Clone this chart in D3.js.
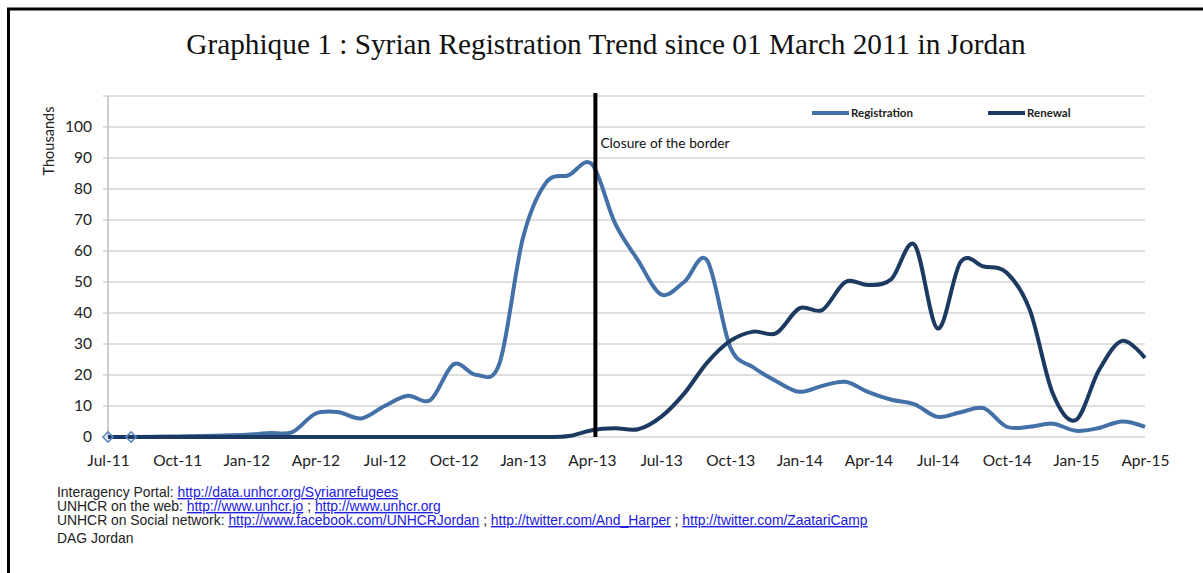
<!DOCTYPE html>
<html>
<head>
<meta charset="utf-8">
<script src="https://cdn.jsdelivr.net/npm/d3@7"></script>
<style>
  body { margin: 0; background: #fff; }
  .tick text { font-family: Lato, "Open Sans", sans-serif; fill: #222; }
  .foot { font-family: "Liberation Sans", Arial, sans-serif; font-size: 13.9px; fill: #222; }
  .lnk { fill: #2020e0; text-decoration: underline; }
</style>
</head>
<body>
<div id="chart"></div>
<script>
let svgWidth = 1203;
let svgHeight = 573;

let margin = { top: 96, right: 58, bottom: 136, left: 108 };
let width = svgWidth - margin.left - margin.right;
let height = svgHeight - margin.top - margin.bottom;

// monthly categories
let months = ["Jul-11","Aug-11","Sep-11","Oct-11","Nov-11","Dec-11",
  "Jan-12","Feb-12","Mar-12","Apr-12","May-12","Jun-12","Jul-12","Aug-12","Sep-12","Oct-12","Nov-12","Dec-12",
  "Jan-13","Feb-13","Mar-13","Apr-13","May-13","Jun-13","Jul-13","Aug-13","Sep-13","Oct-13","Nov-13","Dec-13",
  "Jan-14","Feb-14","Mar-14","Apr-14","May-14","Jun-14","Jul-14","Aug-14","Sep-14","Oct-14","Nov-14","Dec-14",
  "Jan-15","Feb-15","Mar-15","Apr-15"];

// thousands
let registration = [0, 0, 0.1, 0.2, 0.3, 0.5,
  0.7, 1.3, 1.6, 7.5, 8, 6, 10, 13.3, 12, 23.5, 20, 24,
  64, 82, 84.5, 88, 69, 57, 46, 50, 57, 29, 22.5, 18,
  14.6, 16.5, 17.8, 14.5, 12, 10.5, 6.5, 8, 9.3, 3.3, 3.3, 4.3,
  2, 2.9, 5, 3.3];

let renewal = [0, 0, 0, 0, 0, 0,
  0, 0, 0, 0, 0, 0, 0, 0, 0, 0, 0, 0,
  0, 0, 0.3, 2.2, 2.8, 2.5, 6.5, 14, 24, 31, 34, 33.5,
  41.5, 41, 50, 49, 51, 62, 35, 56.5, 55, 53, 41, 14,
  5.5, 21.5, 31, 25.5];

let markerMonths = ["Jul-11", "Aug-11"];
let xTickLabels = ["Jul-11","Oct-11","Jan-12","Apr-12","Jul-12","Oct-12","Jan-13","Apr-13",
  "Jul-13","Oct-13","Jan-14","Apr-14","Jul-14","Oct-14","Jan-15","Apr-15"];
let yTicks = [0, 10, 20, 30, 40, 50, 60, 70, 80, 90, 100];
let gridValues = [0, 10, 20, 30, 40, 50, 60, 70, 80, 90, 100, 110];
let closureMonth = "Apr-13";

let series = [
  { name: "Registration", values: registration, color: "#4470a8" },
  { name: "Renewal", values: renewal, color: "#1c3961" }
];

let svg = d3.select("#chart")
  .append("svg")
  .attr("width", svgWidth)
  .attr("height", svgHeight);

// frame
svg.append("path")
  .attr("d", `M8.5,${svgHeight} V9 H${svgWidth}`)
  .attr("fill", "none")
  .attr("stroke", "#000")
  .attr("stroke-width", 3);

svg.append("text")
  .attr("x", 606)
  .attr("y", 54)
  .attr("text-anchor", "middle")
  .style("font-family", "'Liberation Serif', 'Times New Roman', serif")
  .style("font-size", "29.3px")
  .style("fill", "#111")
  .text("Graphique 1 : Syrian Registration Trend since 01 March 2011 in Jordan");

let chartGroup = svg.append("g")
  .attr("transform", `translate(${margin.left}, ${margin.top})`);

let xScale = d3.scalePoint()
  .domain(months)
  .range([0, width]);

let yScale = d3.scaleLinear()
  .domain([0, 110])
  .range([height, 0]);

// gridlines
chartGroup.selectAll(".grid")
  .data(gridValues)
  .enter()
  .append("line")
  .attr("x1", -5)
  .attr("x2", width)
  .attr("y1", d => yScale(d))
  .attr("y2", d => yScale(d))
  .attr("stroke", "#d4d4d4")
  .attr("stroke-width", 1.6);

chartGroup.append("line")
  .attr("x1", 0).attr("x2", 0)
  .attr("y1", 0).attr("y2", height)
  .attr("stroke", "#bdbdbd")
  .attr("stroke-width", 1.5);

let leftAxis = d3.axisLeft(yScale).tickValues(yTicks).tickSize(0).tickPadding(16);
chartGroup.append("g")
  .call(leftAxis)
  .call(g => g.select(".domain").remove())
  .selectAll("text")
  .style("font-size", "15.5px");

let bottomAxis = d3.axisBottom(xScale).tickValues(xTickLabels).tickSize(0).tickPadding(18);
chartGroup.append("g")
  .attr("transform", `translate(0, ${height})`)
  .call(bottomAxis)
  .call(g => g.select(".domain").remove())
  .selectAll("text")
  .style("font-size", "15.5px");

chartGroup.append("text")
  .attr("transform", "rotate(-90)")
  .attr("x", -(yScale(100) + 14))
  .attr("y", -54)
  .attr("text-anchor", "middle")
  .style("font-family", "Lato, sans-serif")
  .style("font-size", "14.5px")
  .style("fill", "#222")
  .text("Thousands");

let line = d3.line()
  .x((d, i) => xScale(months[i]))
  .y(d => yScale(d))
  .curve(d3.curveCardinal);

chartGroup.selectAll(".series")
  .data(series)
  .enter()
  .append("path")
  .attr("d", d => line(d.values))
  .attr("fill", "none")
  .attr("stroke", d => d.color)
  .attr("stroke-width", 4)
  .attr("stroke-linejoin", "round");

// hollow diamonds at the start
chartGroup.selectAll(".marker")
  .data(markerMonths)
  .enter()
  .append("path")
  .attr("d", d3.symbol().type(d3.symbolSquare).size(52))
  .attr("transform", d => `translate(${xScale(d)}, ${yScale(registration[months.indexOf(d)])}) rotate(45)`)
  .attr("fill", "none")
  .attr("stroke", "#5b86c0")
  .attr("stroke-width", 1.5);

// closure of the border
let closureX = xScale(closureMonth) + xScale.step() * 0.15;
chartGroup.append("line")
  .attr("x1", closureX).attr("x2", closureX)
  .attr("y1", -3).attr("y2", height)
  .attr("stroke", "#000")
  .attr("stroke-width", 4);

chartGroup.append("text")
  .attr("x", closureX + 5)
  .attr("y", yScale(90) - 10)
  .style("font-family", "Lato, sans-serif")
  .style("font-size", "13.8px")
  .style("fill", "#111")
  .text("Closure of the border");

// legend
let legendX = [704, 880];
let legend = chartGroup.selectAll(".legend")
  .data(series)
  .enter()
  .append("g")
  .attr("transform", (d, i) => `translate(${legendX[i]}, 17)`);

legend.append("line")
  .attr("x1", 0).attr("x2", 37)
  .attr("stroke", d => d.color)
  .attr("stroke-width", 4);

legend.append("text")
  .attr("x", 39)
  .attr("dy", "0.35em")
  .style("font-family", "Lato, sans-serif")
  .style("font-size", "11.5px")
  .style("font-weight", "bold")
  .style("fill", "#222")
  .text(d => d.name);

// footer
let footLines = [
  [["Interagency Portal: ", false], ["http://data.unhcr.org/Syrianrefugees", true]],
  [["UNHCR on the web: ", false], ["http://www.unhcr.jo", true], [" ; ", false], ["http://www.unhcr.org", true]],
  [["UNHCR on Social network: ", false], ["http://www.facebook.com/UNHCRJordan", true], [" ; ", false],
   ["http://twitter.com/And_Harper", true], [" ; ", false], ["http://twitter.com/ZaatariCamp", true]],
  [["DAG Jordan", false]]
];
let footY = [497, 511, 525, 543];

footLines.forEach(function(parts, i) {
  let t = svg.append("text")
    .attr("class", "foot")
    .attr("x", 57)
    .attr("y", footY[i]);
  parts.forEach(function(p) {
    t.append("tspan")
      .attr("class", p[1] ? "lnk" : null)
      .text(p[0]);
  });
});
</script>
</body>
</html>
